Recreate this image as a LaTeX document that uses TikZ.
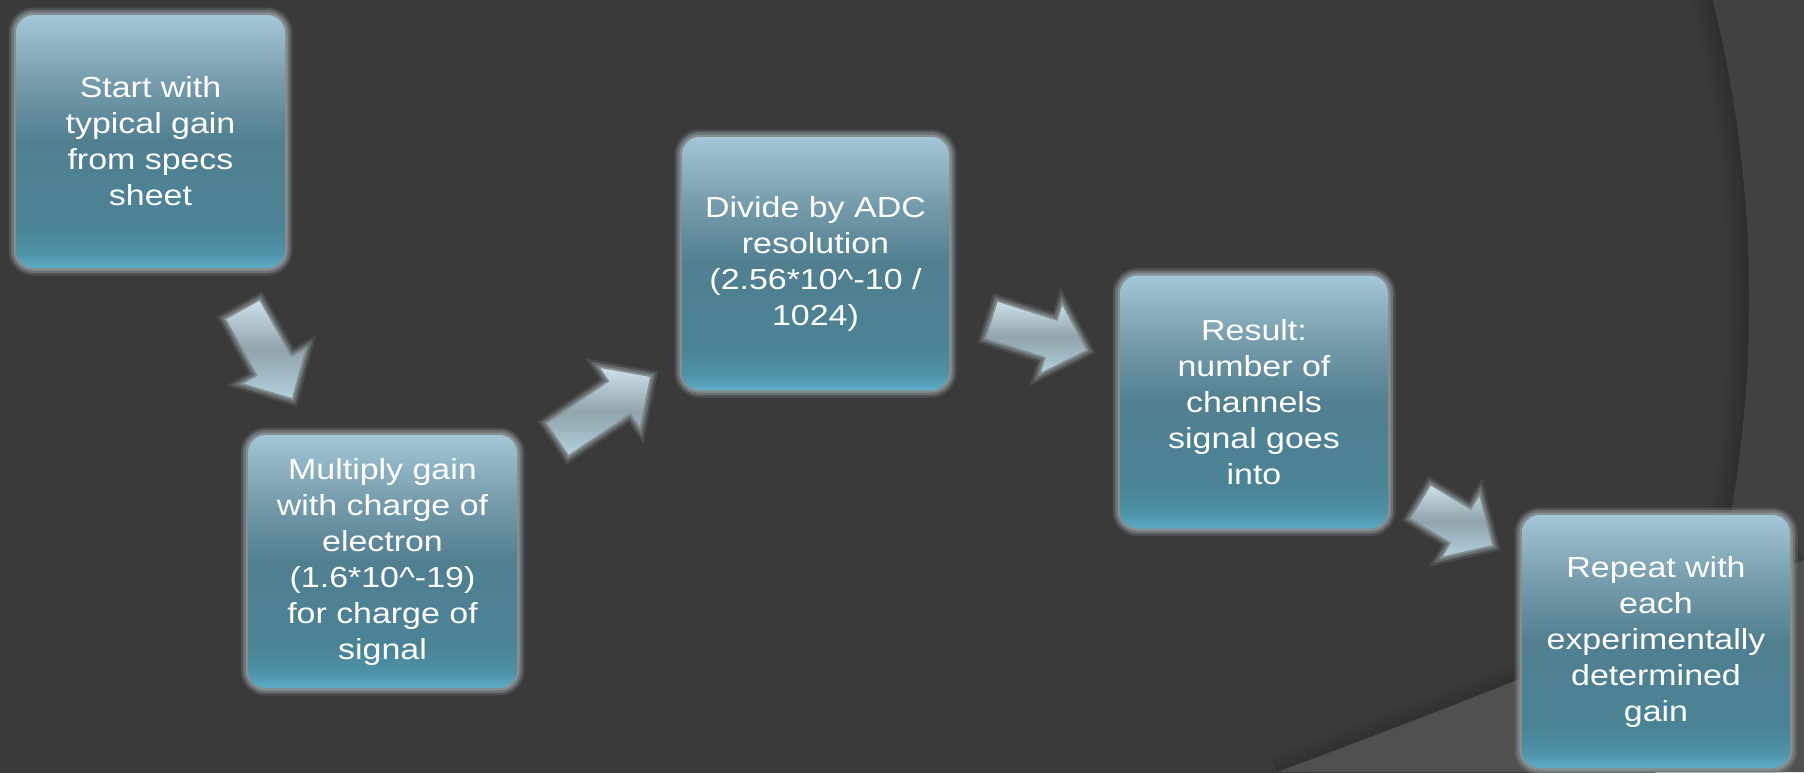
\documentclass[tikz,border=0pt]{standalone}
\usepackage{fontspec}
\setmainfont{Liberation Sans}[FakeStretch=1.17]
\usetikzlibrary{calc}
\definecolor{bgin}{HTML}{3A3A3A}
\definecolor{bgout}{HTML}{414141}
\definecolor{bgband}{HTML}{505050}
\definecolor{glow}{HTML}{8A9296}
\definecolor{boxtop}{HTML}{A3C7D7}
\definecolor{boxup}{HTML}{7A9FAF}
\definecolor{boxmid}{HTML}{517F90}
\definecolor{boxlow}{HTML}{4A8396}
\definecolor{boxbot}{HTML}{4E93A9}
\definecolor{boxedge}{HTML}{5EADC8}
\definecolor{artop}{HTML}{CDE0E7}
\definecolor{armid}{HTML}{91A3AB}
\definecolor{arbot}{HTML}{B2D0DB}
\pgfdeclareverticalshading{boxfill}{100bp}{color(0bp)=(boxedge); color(25bp)=(boxedge); color(28bp)=(boxbot); color(33bp)=(boxlow); color(50bp)=(boxmid); color(63bp)=(boxup); color(75bp)=(boxtop); color(100bp)=(boxtop)}
\pgfdeclareverticalshading{arrowfill}{100bp}{color(0bp)=(arbot); color(25bp)=(arbot); color(50bp)=(armid); color(75bp)=(artop); color(100bp)=(artop)}

\begin{document}
\begin{tikzpicture}[x=1pt,y=-1pt,
    stepbox/.style={rectangle,rounded corners=18pt,minimum width=269pt,minimum height=253pt,
      inner sep=0pt,align=center,text=white,font=\fontsize{29pt}{36pt}\selectfont,
      shading=boxfill,
      preaction={draw=glow,line width=15pt,draw opacity=.25},
      preaction={draw=glow,line width=10pt,draw opacity=.5},
      preaction={draw=glow,line width=5pt,draw opacity=.9}},
    blockarrow/.style={shading=arrowfill,line join=miter,
      preaction={draw=glow,line width=14pt,draw opacity=.2},
      preaction={draw=glow,line width=9pt,draw opacity=.45},
      preaction={draw=glow,line width=4pt,draw opacity=.85}}]
    \useasboundingbox (0,0) rectangle (1804,772);
    \clip (0,0) rectangle (1804,772);
    \fill[bgout] (0,0) rectangle (1804,772);
    \fill[bgin] (514,300) circle (1235);
    \begin{scope}
      \clip (514,300) circle (1235);
      \foreach \w in {44,40,...,4}
        \draw[black,line width=\w pt,draw opacity=.012] (514,300) circle (1235);
    \end{scope}
    \foreach \w in {36,32,...,4}
      \draw[black,line width=\w pt,draw opacity=.015] (1277,772) .. controls (1440,712) and (1640,633) .. (1804,560);
    \fill[bgband] (1277,772) .. controls (1440,712) and (1640,633) .. (1804,560) -- (1804,772) -- cycle;

    \node[stepbox] (start) at (150.5,141.5) {Start with\\typical gain\\from specs\\sheet};
    \node[stepbox] (multiply) at (382.5,561.5) {Multiply gain\\with charge of\\electron\\(1.6*10\^{}-19)\\for charge of\\signal};
    \node[stepbox,minimum width=267pt] (divide) at (815.5,263.5) {Divide by ADC\\resolution\\(2.56*10\^{}-10 /\\1024)};
    \node[stepbox,minimum width=268pt] (result) at (1254,402) {Result:\\number of\\channels\\signal goes\\into};
    \node[stepbox,minimum width=268pt] (repeat) at (1656,641.5) {Repeat with\\each\\experimentally\\determined\\gain};

    \coordinate (a1s) at (243,310);
    \coordinate (a1e) at (292,398);
    \coordinate (a2s) at (558,439);
    \coordinate (a2e) at (650,377);
    \coordinate (a3s) at (992,320);
    \coordinate (a3e) at (1086,350);
    \coordinate (a4s) at (1421,502);
    \coordinate (a4e) at (1492,545);
    \foreach \a in {a1,a2,a3,a4}{
      \coordinate (\a j) at ($(\a e)!36pt!(\a s)$);
      \path[blockarrow] ($(\a s)!19pt!90:(\a e)$) -- ($(\a j)!19pt!90:(\a e)$)
        -- ($(\a j)!35pt!90:(\a e)$) -- (\a e) -- ($(\a j)!35pt!-90:(\a e)$)
        -- ($(\a j)!19pt!-90:(\a e)$) -- ($(\a s)!19pt!-90:(\a e)$) -- cycle;
    }
\end{tikzpicture}
\end{document}
